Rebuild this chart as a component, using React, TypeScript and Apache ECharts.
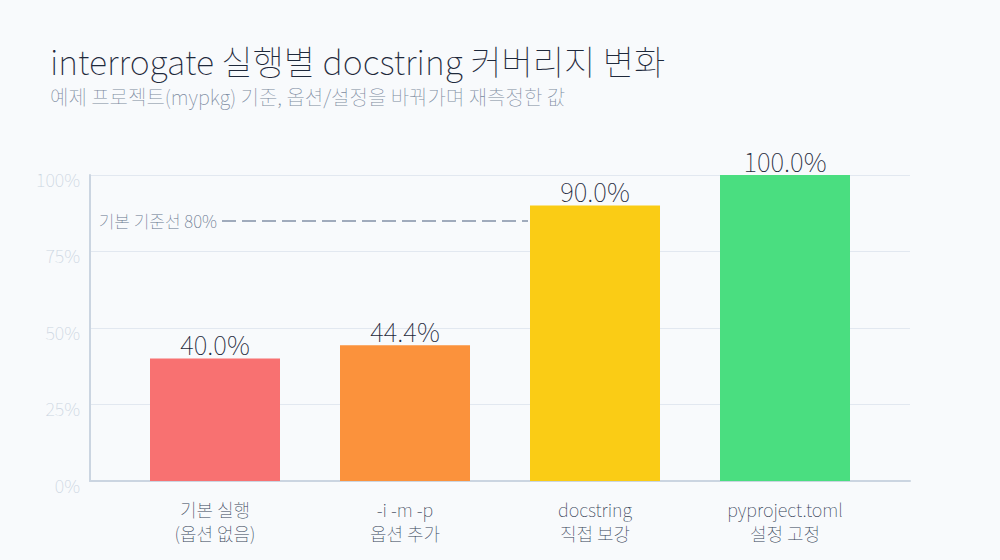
import * as echarts from 'echarts';
import { useEffect, useRef } from 'react';

const categories = ['기본 실행\n(옵션 없음)', '-i -m -p\n옵션 추가', 'docstring\n직접 보강', 'pyproject.toml\n설정 고정'];
const coverage = [40.0, 44.4, 90.0, 100.0];
const barColors = ['#f87171', '#fb923c', '#facc15', '#4ade80'];
const yTicks = [0, 25, 50, 75, 100];
const baselineLabel = '기본 기준선 80%';
const baselineLevel = 85;

const FONT = '"Noto Sans CJK KR", "Noto Sans", sans-serif';
const LIGHT = 100;

function App() {
  const chartRef = useRef(null);

  useEffect(() => {
    document.body.style.margin = '0';
    const myChart = echarts.init(chartRef.current, null, { renderer: 'svg' });

    const yMax = yTicks[yTicks.length - 1];
    const yInterval = yTicks[1] - yTicks[0];

    const option = {
      animation: false,
      backgroundColor: '#f8fafc',
      textStyle: { fontFamily: FONT },
      title: {
        text: 'interrogate 실행별 docstring 커버리지 변화',
        subtext: '예제 프로젝트(mypkg) 기준, 옵션/설정을 바꿔가며 재측정한 값',
        left: 45,
        top: 38,
        itemGap: 10,
        textStyle: {
          fontFamily: FONT,
          fontSize: 34,
          fontWeight: LIGHT,
          color: '#1e293b',
        },
        subtextStyle: {
          fontFamily: FONT,
          fontSize: 20,
          fontWeight: LIGHT,
          color: '#7c8aa0',
        },
      },
      grid: [
        { left: 90, right: 90, top: 175, bottom: 79 },
        { left: 120, right: 120, top: 175, bottom: 79 },
      ],
      xAxis: [
        {
          type: 'category',
          gridIndex: 0,
          data: categories,
          axisLine: { show: true, lineStyle: { color: '#cbd5e1', width: 2 } },
          axisTick: { show: false },
          axisLabel: { show: false },
        },
        {
          type: 'category',
          gridIndex: 1,
          data: categories,
          axisLine: { show: false },
          axisTick: { show: false },
          axisLabel: {
            margin: 16,
            fontFamily: FONT,
            fontSize: 18,
            fontWeight: LIGHT,
            lineHeight: 24,
            color: '#334155',
          },
        },
      ],
      yAxis: [
        {
          type: 'value',
          gridIndex: 0,
          min: 0,
          max: yMax,
          interval: yInterval,
          axisLine: { show: true, lineStyle: { color: '#cbd5e1', width: 2 } },
          axisTick: { show: false },
          splitLine: { lineStyle: { color: '#e2e8f0', width: 1 } },
          axisLabel: {
            formatter: '{a|{value}%}',
            margin: 10,
            rich: {
              a: {
                padding: [7, 0, 0, 0],
                fontFamily: FONT,
                fontSize: 18,
                fontWeight: LIGHT,
                color: '#cbd5e1',
              },
            },
          },
        },
        {
          type: 'value',
          gridIndex: 1,
          min: 0,
          max: yMax,
          interval: yInterval,
          show: false,
        },
      ],
      series: [
        {
          type: 'bar',
          xAxisIndex: 1,
          yAxisIndex: 1,
          barWidth: 130,
          data: coverage.map((v, i) => ({ value: v, itemStyle: { color: barColors[i] } })),
          label: {
            show: true,
            position: 'top',
            distance: 2,
            formatter: (p: any) => p.value.toFixed(1) + '%',
            fontFamily: FONT,
            fontSize: 26,
            fontWeight: LIGHT,
            color: '#1e293b',
          },
          markLine: {
            silent: true,
            symbol: 'none',
            z: 1,
            lineStyle: { color: '#8391a7', width: 1.5, type: [14, 6] },
            label: {
              show: true,
              position: 'start',
              distance: 5,
              formatter: baselineLabel,
              fontFamily: FONT,
              fontSize: 17,
              fontWeight: LIGHT,
              color: '#64748b',
            },
            data: [[{ x: 222, yAxis: baselineLevel }, { x: 528, yAxis: baselineLevel }]],
          },
        },
      ],
    };

    myChart.setOption(option);

    return () => {
      myChart.dispose();
    };
  }, []);

  return <div ref={chartRef} style={{ width: '1000px', height: '560px' }}></div>;
}

export default App;
